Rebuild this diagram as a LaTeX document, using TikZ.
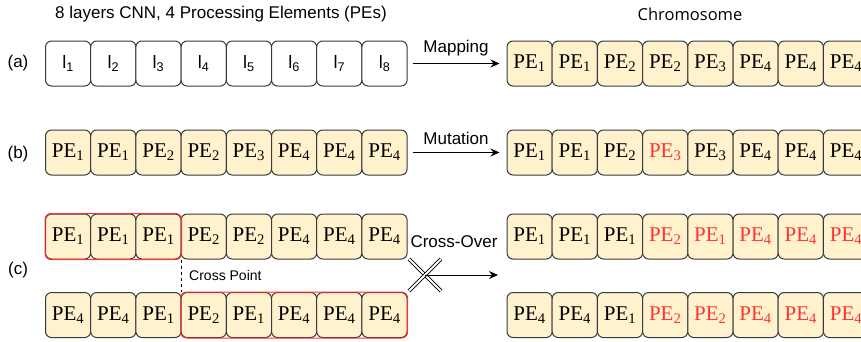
\documentclass[tikz,border=0pt]{standalone}
\usepackage{fontspec}
\setmainfont{Liberation Sans}
\newfontfamily\pefont{Liberation Serif}
\newfontfamily\chromfont{Open Sans}
\usetikzlibrary{arrows.meta}
\definecolor{cellfill}{HTML}{FFF2CC}
\definecolor{cellline}{HTML}{36393D}
\definecolor{mutred}{HTML}{FF3333}

\tikzset{
  cell/.style={draw=cellline, line width=1pt, rounded corners=6pt, minimum width=45.2pt, minimum height=45pt, inner sep=0pt},
  pecell/.style={cell, fill=cellfill, font=\pefont\fontsize{21}{21}\selectfont},
  layercell/.style={cell, fill=white, font=\fontsize{18}{18}\selectfont},
  lbl/.style={font=\fontsize{17}{17}\selectfont, inner sep=0pt},
  flow/.style={-{Stealth[length=9pt,width=8pt]}, line width=1pt},
  group/.style={draw=mutred, line width=1pt, rounded corners=6pt},
  crossmark/.style={double=white, double distance=2pt, line width=0.8pt},
}

% one chromosome: name prefix, left x, centre y, list of gene/colour
\newcommand{\pegrow}[4]{%
  \foreach \v/\c [count=\i] in {#4}
    \node[pecell, text=\c] (#1\i) at ({#2+(\i-0.5)*45.2}, #3) {PE\textsubscript{\v}};%
}

\begin{document}
\begin{tikzpicture}[x=1pt, y=-1pt]
\useasboundingbox (0,0) rectangle (861,341);

\node[lbl] (title) at (221,14) {8 layers CNN, 4 Processing Elements (PEs)};
\node[lbl, font=\chromfont\fontsize{16.5}{16.5}\selectfont] (chrom) at (690,14) {Chromosome};

\node[lbl] (la) at (18,63) {(a)};
\node[lbl] (lb) at (18,154) {(b)};
\node[lbl] (lc) at (18,270) {(c)};

% (a) layers
\foreach \i in {1,...,8}
  \node[layercell] (a\i) at ({45.5+(\i-0.5)*45.2}, 63.5) {l\textsubscript{\i}};

% left side
\pegrow{b}{45.5}{152.5}{1/black,1/black,2/black,2/black,3/black,4/black,4/black,4/black}
\pegrow{c}{45.5}{236.5}{1/black,1/black,1/black,2/black,2/black,4/black,4/black,4/black}
\pegrow{d}{45.5}{315}{4/black,4/black,1/black,2/black,1/black,4/black,4/black,4/black}

% right side
\pegrow{ma}{507}{63.5}{1/black,1/black,2/black,2/black,3/black,4/black,4/black,4/black}
\pegrow{mb}{507}{152.5}{1/black,1/black,2/black,3/mutred,3/black,4/black,4/black,4/black}
\pegrow{mc}{507}{236.5}{1/black,1/black,1/black,2/mutred,1/mutred,4/mutred,4/mutred,4/mutred}
\pegrow{md}{507}{315}{4/black,4/black,1/black,2/mutred,2/mutred,4/mutred,4/mutred,4/mutred}

% swapped parts
\draw[group] (c1.north west) rectangle (c3.south east);
\draw[group] (d4.north west) rectangle (d8.south east);
\draw[dashed, line width=0.7pt, dash pattern=on 3pt off 3pt] (c3.south east) -- (d3.north east);
\node[lbl, font=\fontsize{14}{14}\selectfont, anchor=west] (cp) at (189,275) {Cross Point};

% operators
\draw[flow] ([xshift=5pt]a8.east) -- node[lbl, above=7pt] (map) {Mapping} ([xshift=-7pt]ma1.west);
\draw[flow] ([xshift=5pt]b8.east) -- node[lbl, above=7pt] (mut) {Mutation} ([xshift=-7pt]mb1.west);

\node[lbl] (co) at (454,242) {Cross-Over};
\coordinate (xo) at (425,275);
\coordinate (xend) at (498,275);
\draw[crossmark] ([shift={(-16,-16)}]xo) -- ([shift={(16,16)}]xo);
\draw[crossmark] ([shift={(16,-16)}]xo) -- ([shift={(-16,16)}]xo);
\draw[flow] (xo) -- (xend);
\end{tikzpicture}
\end{document}
